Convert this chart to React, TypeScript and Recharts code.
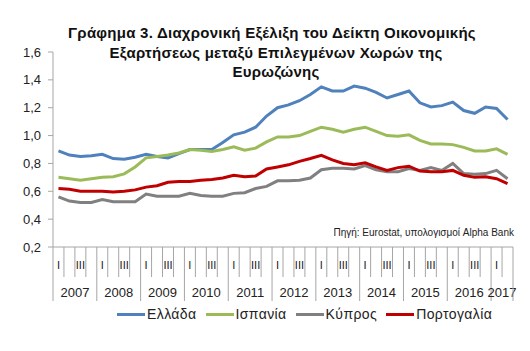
import React from "react";
import { LineChart, Line, XAxis, YAxis, Legend } from "recharts";

// quarters 2007 Q1 .. 2017 Q2
const years = ["2007", "2008", "2009", "2010", "2011", "2012", "2013", "2014", "2015", "2016", "2017"];
const quarterLabels = ["I", "II", "III", "IV"];
const yTicks = [0.2, 0.4, 0.6, 0.8, 1.0, 1.2, 1.4, 1.6];

const greece = [
  0.89, 0.86, 0.85, 0.855, 0.865, 0.835, 0.83, 0.845, 0.865, 0.85, 0.84,
  0.87, 0.9, 0.9, 0.9, 0.95, 1.005, 1.025, 1.06, 1.14, 1.2,
  1.22, 1.25, 1.295, 1.35, 1.32, 1.32, 1.355, 1.34, 1.31, 1.27, 1.295,
  1.32, 1.235, 1.205, 1.215, 1.24, 1.18, 1.16, 1.205, 1.195, 1.115,
];
const spain = [
  0.7, 0.69, 0.68, 0.69, 0.7, 0.705, 0.725, 0.775, 0.84, 0.85, 0.86,
  0.875, 0.9, 0.895, 0.885, 0.9, 0.92, 0.895, 0.91, 0.955, 0.99,
  0.99, 1.0, 1.03, 1.06, 1.045, 1.025, 1.045, 1.06, 1.03, 1.0, 0.995,
  1.005, 0.965, 0.94, 0.94, 0.935, 0.915, 0.89, 0.89, 0.905, 0.865,
];
const cyprus = [
  0.56, 0.53, 0.52, 0.52, 0.54, 0.525, 0.525, 0.525, 0.58, 0.565, 0.565,
  0.565, 0.585, 0.57, 0.565, 0.565, 0.585, 0.59, 0.62, 0.635, 0.675,
  0.675, 0.68, 0.695, 0.755, 0.765, 0.765, 0.76, 0.785, 0.755, 0.74, 0.74,
  0.763, 0.75, 0.77, 0.75, 0.8, 0.727, 0.722, 0.727, 0.75, 0.69,
];
const portugal = [
  0.62, 0.615, 0.6, 0.6, 0.6, 0.595, 0.6, 0.61, 0.63, 0.64, 0.665,
  0.67, 0.67, 0.68, 0.685, 0.695, 0.715, 0.705, 0.71, 0.76, 0.775,
  0.79, 0.815, 0.835, 0.858, 0.825, 0.8, 0.79, 0.805, 0.775, 0.75, 0.77,
  0.78, 0.745, 0.74, 0.74, 0.75, 0.715, 0.7, 0.705, 0.69, 0.655,
];

const series = [
  { key: "greece", name: "Ελλάδα", color: "#4F81BD", values: greece },
  { key: "spain", name: "Ισπανία", color: "#9BBB59", values: spain },
  { key: "cyprus", name: "Κύπρος", color: "#808080", values: cyprus },
  { key: "portugal", name: "Πορτογαλία", color: "#C00000", values: portugal },
];

const periods: { year: string; q: string }[] = [];
years.forEach((y) => quarterLabels.forEach((q) => periods.push({ year: y, q })));
periods.length = greece.length;

const data = periods.map((p, i) => {
  const row: any = { period: `${p.year} ${p.q}` };
  series.forEach((s) => (row[s.key] = s.values[i]));
  return row;
});

const PLOT_LEFT = 53;
const PLOT_RIGHT = 513;
const STEP = (PLOT_RIGHT - PLOT_LEFT) / data.length;
const AXIS_COLOR = "#a6a6a6";
const FONT = "'Liberation Sans', Arial, sans-serif";

const QuarterTick = (props: any) => {
  const { x, y, index } = props;
  const p = periods[index];
  if (!p) return null;
  const isQ1 = p.q === "I";
  const left = x - STEP / 2;
  const inYear = periods.filter((o) => o.year === p.year).length;
  return (
    <g>
      <line x1={left} x2={left} y1={y} y2={y + (isQ1 ? 54 : 30)} stroke={AXIS_COLOR} />
      {index === periods.length - 1 && (
        <line x1={x + STEP / 2} x2={x + STEP / 2} y1={y} y2={y + 54} stroke={AXIS_COLOR} />
      )}
      {(p.q === "I" || p.q === "III") && (
        <text x={x} y={y + 22} textAnchor="middle" fontSize={11} fill="#222" fontFamily={FONT}>
          {p.q}
        </text>
      )}
      {isQ1 && (
        <text
          x={x + (STEP * (inYear - 1)) / 2}
          y={y + 50}
          textAnchor="middle"
          fontSize={13}
          fill="#222"
          fontFamily={FONT}
        >
          {p.year}
        </text>
      )}
    </g>
  );
};

const LegendContent = () => (
  <div style={{ display: "flex", alignItems: "center", paddingLeft: 117, fontFamily: FONT, fontSize: 14, color: "#222" }}>
    {series.map((s) => (
      <div key={s.key} style={{ display: "flex", alignItems: "center", marginRight: 9 }}>
        <div style={{ width: 28, height: 3, background: s.color, marginRight: 2 }} />
        <span style={{ letterSpacing: 0.4 }}>{s.name}</span>
      </div>
    ))}
  </div>
);

const titleStyle = { fontSize: 15, fontWeight: "bold" as const, fontFamily: FONT, fill: "#111", letterSpacing: 0.25 };

export default function App() {
  return (
    <div style={{ position: "absolute", left: 0, top: 0, width: 530, height: 351, background: "#fff" }}>
      <LineChart
        width={530}
        height={351}
        data={data}
        margin={{ top: 52, right: 17, bottom: 44, left: 1 }}
      >
        <text x={272} y={38} textAnchor="middle" style={titleStyle}>
          Γράφημα 3. Διαχρονική Εξέλιξη του Δείκτη Οικονομικής
        </text>
        <text x={276} y={58} textAnchor="middle" style={titleStyle}>
          Εξαρτήσεως μεταξύ Επιλεγμένων Χωρών της
        </text>
        <text x={276} y={77} textAnchor="middle" style={titleStyle}>
          Ευρωζώνης
        </text>
        <text x={514} y={236} textAnchor="end" fontSize={10} fontFamily={FONT} fill="#222">
          Πηγή: Eurostat, υπολογισμοί Alpha Bank
        </text>
        <XAxis
          dataKey="period"
          interval={0}
          padding={{ left: STEP / 2, right: STEP / 2 }}
          height={60}
          tickSize={0}
          tickMargin={0}
          tickLine={false}
          stroke={AXIS_COLOR}
          tick={<QuarterTick />}
        />
        <YAxis
          domain={[0.2, 1.6]}
          ticks={yTicks}
          width={52}
          tickSize={5}
          tickMargin={7}
          stroke={AXIS_COLOR}
          tick={{ fill: "#222", fontSize: 13, fontFamily: FONT }}
          tickFormatter={(v: number) => v.toFixed(1).replace(".", ",")}
        />
        <Legend
          layout="horizontal"
          verticalAlign="middle"
          align="center"
          wrapperStyle={{ top: 306, left: 0, width: 530 }}
          content={<LegendContent />}
        />
        {series.map((s) => (
          <Line
            key={s.key}
            dataKey={s.key}
            name={s.name}
            stroke={s.color}
            strokeWidth={3}
            dot={false}
            type="linear"
            isAnimationActive={false}
          />
        ))}
      </LineChart>
    </div>
  );
}
